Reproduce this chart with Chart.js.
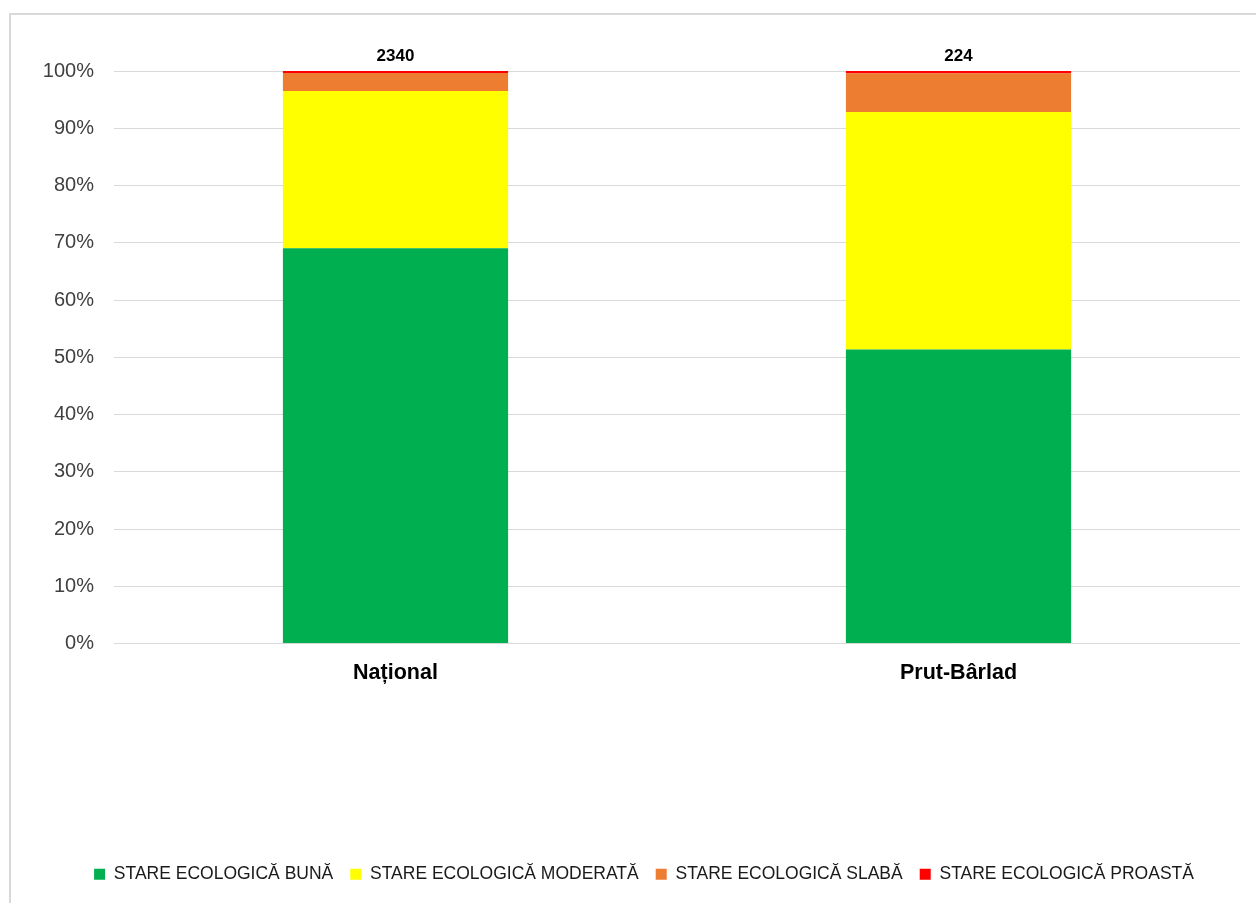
<!DOCTYPE html>
<html>
<head>
<meta charset="utf-8">
<script src="https://cdn.jsdelivr.net/npm/chart.js@4"></script>
<style>
  html, body { margin: 0; padding: 0; background: #fff; }
  #frame {
    position: absolute; left: 9px; top: 13px; width: 1260px; height: 900px;
    border: 2px solid #d9d9d9; box-sizing: border-box;
  }
  #chart { position: absolute; left: 0; top: 0; }
</style>
</head>
<body>
<div id="frame"></div>
<canvas id="chart" width="1256" height="903"></canvas>
<script>
// --- dados do gráfico ---
const categories = ["Național", "Prut-Bârlad"];
const totals = [2340, 224];

const seriesNames = [
  "STARE ECOLOGICĂ BUNĂ",
  "STARE ECOLOGICĂ MODERATĂ",
  "STARE ECOLOGICĂ SLABĂ",
  "STARE ECOLOGICĂ PROASTĂ",
];
const bunaPct = [69.02, 51.34];
const moderataPct = [27.48, 41.52];
const slabaPct = [3.16, 6.7];
const proastaPct = [0.34, 0.44];

const seriesColors = ["#00b050", "#ffff00", "#ed7d31", "#ff0000"];
const yTicks = [0, 10, 20, 30, 40, 50, 60, 70, 80, 90, 100];

const allSeries = [bunaPct, moderataPct, slabaPct, proastaPct];

const FONT = "'Liberation Sans', Arial, sans-serif";

// rótulo do total acima de cada barra
const totalLabels = {
  id: "totalLabels",
  afterLayout(chart) {
    // legenda um pouco mais à direita, como no original
    if (chart.legend) {
      chart.legend.left += 10;
      chart.legend.right += 10;
    }
  },
  afterDatasetsDraw(chart) {
    const ctx = chart.ctx;
    const meta = chart.getDatasetMeta(0);
    const yTop = chart.scales.y.getPixelForValue(100);
    ctx.save();
    ctx.font = "bold 17px " + FONT;
    ctx.fillStyle = "#000";
    ctx.textAlign = "center";
    ctx.textBaseline = "middle";
    meta.data.forEach((bar, i) => {
      ctx.fillText(String(totals[i]), bar.x, yTop - 15);
    });
    ctx.restore();
  },
};

new Chart(document.getElementById("chart").getContext("2d"), {
  type: "bar",
  data: {
    labels: categories,
    datasets: allSeries.map((vals, i) => ({
      label: seriesNames[i],
      data: vals,
      backgroundColor: seriesColors[i],
      borderWidth: 0,
      barPercentage: 0.4,
      categoryPercentage: 1,
    })),
  },
  options: {
    responsive: false,
    animation: false,
    layout: { padding: { top: 71, right: 16, left: 28, bottom: 10 } },
    scales: {
      x: {
        stacked: true,
        grid: { display: false },
        border: { display: false },
        ticks: {
          padding: 9,
          color: "#000",
          font: { family: FONT, size: 21.5, weight: "bold" },
        },
        afterFit: (scale) => { scale.height = 205; },
      },
      y: {
        stacked: true,
        min: 0,
        max: 100,
        afterBuildTicks: (scale) => { scale.ticks = yTicks.map((v) => ({ value: v })); },
        grid: { color: "#d9d9d9", lineWidth: 1, drawTicks: false },
        border: { display: false },
        ticks: {
          padding: 20,
          color: "#404040",
          font: { family: FONT, size: 20 },
          callback: (v) => v + "%",
        },
        afterFit: (scale) => { scale.width = 86; },
      },
    },
    plugins: {
      legend: {
        position: "bottom",
        labels: {
          boxWidth: 11,
          boxHeight: 11,
          padding: 17,
          color: "#1a1a1a",
          font: { family: FONT, size: 17.5 },
        },
      },
      tooltip: { enabled: false },
    },
  },
  plugins: [totalLabels],
});
</script>
</body>
</html>
